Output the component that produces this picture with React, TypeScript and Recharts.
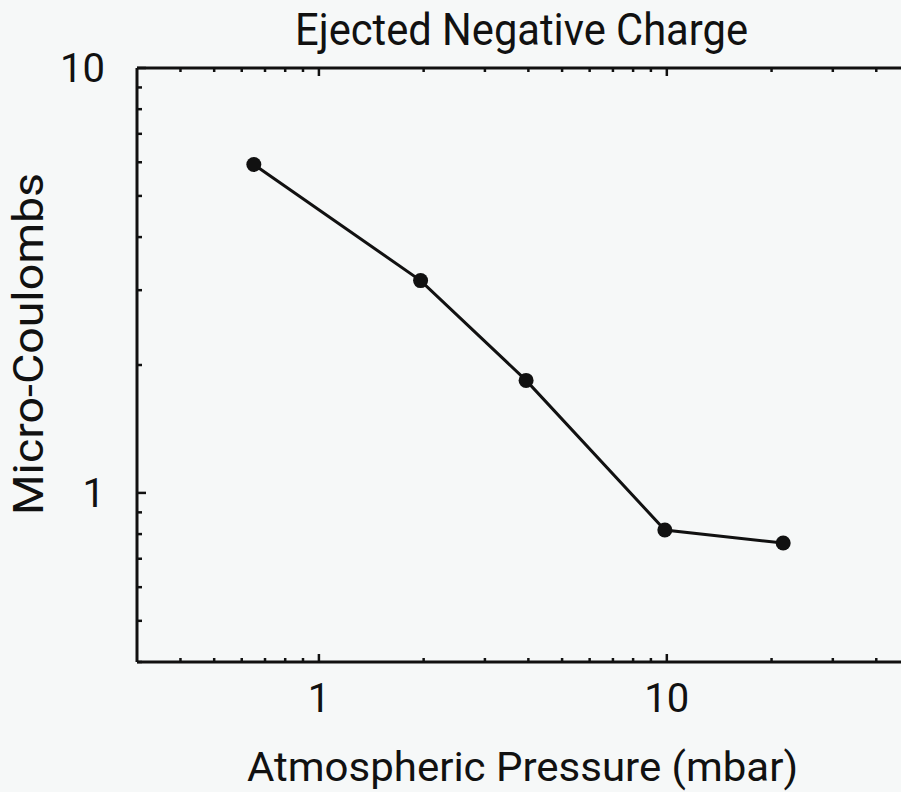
import { Label, Line, LineChart, XAxis, YAxis } from "recharts";

// values (log-log)
const pressure = [0.65, 1.96, 3.94, 9.87, 21.6];
const charge = [5.93, 3.16, 1.84, 0.818, 0.762];

const xTicks = [0.4, 0.5, 0.6, 0.7, 0.8, 0.9, 1, 2, 3, 4, 5, 6, 7, 8, 9, 10, 20, 30, 40];
const yTicks = [0.4, 0.5, 0.6, 0.7, 0.8, 0.9, 1, 2, 3, 4, 5, 6, 7, 8, 9, 10];
const majorTicks = [1, 10];

const xDomain: [number, number] = [0.3, 50];
const yDomain: [number, number] = [0.4, 10];

const title = "Ejected Negative Charge";
const xTitle = "Atmospheric Pressure (mbar)";
const yTitle = "Micro-Coulombs";

const data = pressure.map((p, i) => ({ p, q: charge[i] }));

const FONT = "Roboto, 'DejaVu Sans', sans-serif";
const INK = "#111";

function BottomTick(props: any) {
  const { x, y, payload } = props;
  const major = majorTicks.includes(payload.value);
  return (
    <g>
      <line x1={x} x2={x} y1={y} y2={y - (major ? 8 : 4)} stroke={INK} strokeWidth={2.5} />
      {major && (
        <text x={x} y={y + 50} textAnchor="middle" fontFamily={FONT} fontSize={40} fill={INK}>
          {payload.value}
        </text>
      )}
    </g>
  );
}

function TopTick(props: any) {
  const { x, y, payload } = props;
  const major = majorTicks.includes(payload.value);
  return <line x1={x} x2={x} y1={y} y2={y + (major ? 8 : 4)} stroke={INK} strokeWidth={2.5} />;
}

function LeftTick(props: any) {
  const { x, y, payload } = props;
  const major = majorTicks.includes(payload.value);
  return (
    <g>
      <line x1={x} x2={x + (major ? 9 : 5)} y1={y} y2={y} stroke={INK} strokeWidth={2.5} />
      {major && (
        <text x={x - 32} y={y + 14} textAnchor="end" fontFamily={FONT} fontSize={40} fill={INK}>
          {payload.value}
        </text>
      )}
    </g>
  );
}

export default function App() {
  return (
    <div style={{ width: 901, height: 792, overflow: "hidden", background: "#f6f8f8" }}>
      <style>{"body{margin:0}"}</style>
      <LineChart width={960} height={792} data={data} margin={{ top: 0, right: 50, bottom: 0, left: 0 }}>
        <XAxis
          dataKey="p"
          type="number"
          scale="log"
          domain={xDomain}
          allowDataOverflow
          ticks={xTicks}
          interval={0}
          height={130}
          tickSize={0}
          tickMargin={0}
          tickLine={false}
          tick={<BottomTick />}
          axisLine={{ stroke: INK, strokeWidth: 3 }}
        >
          <Label
            content={({ viewBox }: any) => (
              <text
                x={viewBox.x + viewBox.width / 2 - 1}
                y={viewBox.y + 119}
                textAnchor="middle"
                fontFamily={FONT}
                fontSize={40}
                fill={INK}
                textLength={551}
                lengthAdjust="spacingAndGlyphs"
              >
                {xTitle}
              </text>
            )}
          />
        </XAxis>
        <XAxis
          xAxisId="top"
          dataKey="p"
          orientation="top"
          type="number"
          scale="log"
          domain={xDomain}
          allowDataOverflow
          ticks={xTicks}
          interval={0}
          height={68}
          tickSize={0}
          tickMargin={0}
          tickLine={false}
          tick={<TopTick />}
          axisLine={{ stroke: INK, strokeWidth: 3 }}
        >
          <Label
            content={({ viewBox }: any) => (
              <text
                x={viewBox.x + viewBox.width / 2 - 2}
                y={45}
                textAnchor="middle"
                fontFamily={FONT}
                fontSize={44}
                fill={INK}
                textLength={453}
                lengthAdjust="spacingAndGlyphs"
              >
                {title}
              </text>
            )}
          />
        </XAxis>
        <YAxis
          dataKey="q"
          type="number"
          scale="log"
          domain={yDomain}
          allowDataOverflow
          ticks={yTicks}
          interval={0}
          width={137}
          tickSize={0}
          tickMargin={0}
          tickLine={false}
          tick={<LeftTick />}
          axisLine={{ stroke: INK, strokeWidth: 3 }}
        >
          <Label
            content={({ viewBox }: any) => {
              const cx = 43;
              const cy = viewBox.y + viewBox.height / 2 - 21;
              return (
                <text
                  x={cx}
                  y={cy}
                  transform={`rotate(-90 ${cx} ${cy})`}
                  textAnchor="middle"
                  fontFamily={FONT}
                  fontSize={42}
                  fill={INK}
                  textLength={342}
                  lengthAdjust="spacingAndGlyphs"
                >
                  {yTitle}
                </text>
              );
            }}
          />
        </YAxis>
        <Line
          dataKey="q"
          type="linear"
          stroke={INK}
          strokeWidth={3}
          dot={{ r: 7.5, fill: INK, stroke: INK, strokeWidth: 0 }}
          isAnimationActive={false}
        />
      </LineChart>
    </div>
  );
}
